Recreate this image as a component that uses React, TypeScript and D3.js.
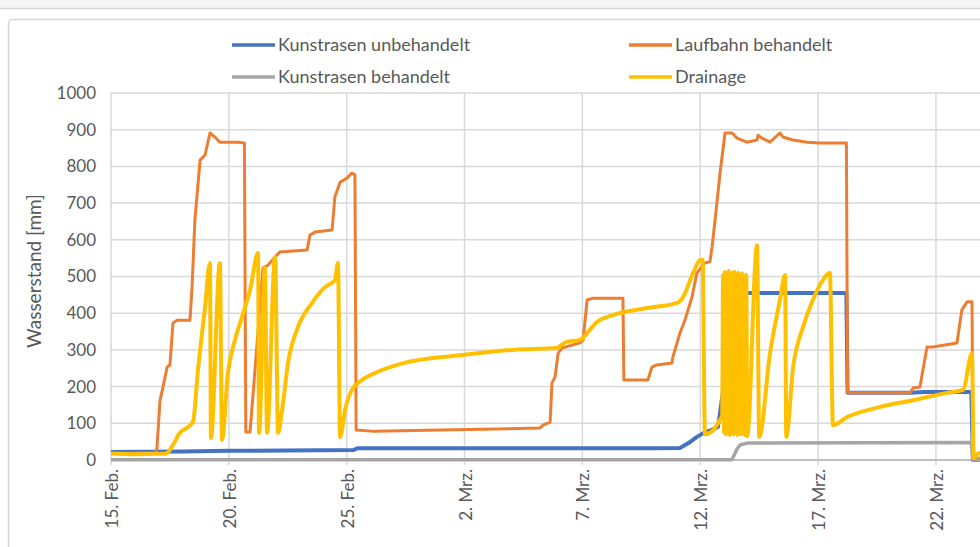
import React from 'react';
import * as d3 from 'd3';

type P = [number, number];

const tickDays = [0, 5, 10, 15, 20, 25, 30, 35];
const tickLabels = ['15. Feb.', '20. Feb.', '25. Feb.', '2. Mrz.', '7. Mrz.', '12. Mrz.', '17. Mrz.', '22. Mrz.'];
const yTicks = [0, 100, 200, 300, 400, 500, 600, 700, 800, 900, 1000];

const seriesNames = ['Kunstrasen unbehandelt', 'Laufbahn behandelt', 'Kunstrasen behandelt', 'Drainage'];

// Kunstrasen unbehandelt (day offset from 15 Feb, mm)
const kunstrasenUnbehandelt: P[] = [
  [0, 22], [3, 23], [5, 25], [10.3, 27], [10.45, 32], [18, 32], [23, 32], [24.14, 33], [24.5, 46],
  [24.86, 63], [25.2, 76], [25.5, 82], [25.75, 90], [25.84, 128], [26.2, 300], [26.6, 455],
  [31.2, 455], [31.25, 183], [33.9, 183], [34.5, 185], [36.5, 185], [36.57, 0], [37, 0],
];

// Laufbahn behandelt
const laufbahnBehandelt: P[] = [
  [0, 18], [1.9, 20], [1.95, 33], [2.08, 163], [2.21, 200], [2.38, 253], [2.5, 259], [2.63, 373],
  [2.8, 381], [3.35, 381], [3.44, 472], [3.56, 654], [3.78, 817], [3.99, 831], [4.2, 891], [4.41, 880],
  [4.62, 866], [5.39, 866], [5.66, 864], [5.72, 76], [5.9, 76], [6.45, 523], [6.66, 531], [6.96, 553],
  [7.17, 567], [8.32, 572], [8.44, 613], [8.66, 621], [9.38, 627], [9.5, 717], [9.72, 757], [10.01, 768],
  [10.22, 782], [10.35, 777], [10.4, 82], [11.2, 78], [14, 82], [18.2, 87], [18.33, 95], [18.63, 103],
  [18.71, 210], [18.84, 226], [18.97, 291], [19.13, 305], [19.9, 319], [20.03, 327], [20.2, 436],
  [20.45, 441], [21.72, 441], [21.76, 218], [22.78, 218], [22.95, 253], [23.16, 259], [23.8, 264],
  [23.84, 281], [24.14, 346], [24.35, 381], [24.65, 444], [24.86, 510], [25.2, 537], [25.41, 540],
  [25.5, 580], [25.63, 654], [25.84, 782], [26.05, 891], [26.35, 891], [26.56, 877], [26.98, 866],
  [27.41, 872], [27.45, 885], [27.62, 877], [27.96, 866], [28.38, 891], [28.51, 880], [28.94, 872],
  [29.53, 866], [30.08, 864], [31.2, 864], [31.25, 183], [33.9, 183], [34.03, 196], [34.32, 199],
  [34.62, 308], [34.87, 308], [35.89, 319], [36.1, 409], [36.32, 431], [36.53, 431], [36.57, 5], [37, 5],
];

// Kunstrasen behandelt
const kunstrasenBehandelt: P[] = [
  [0, 1], [26.35, 1], [26.56, 30], [26.69, 41], [26.98, 46], [36.5, 48], [36.57, 0], [37, 0],
];

// Drainage
const drainage: P[] = [
  [0, 18], [1, 16], [2, 17], [2.35, 18], [2.63, 41], [2.92, 74], [3.27, 90], [3.48, 104], [3.69, 245],
  [3.99, 417], [4.2, 537], [4.24, 60], [4.62, 537], [4.71, 55], [4.96, 237], [5.26, 327], [5.56, 390],
  [5.9, 463], [6.24, 564], [6.28, 74], [6.53, 523], [6.62, 74], [6.96, 553], [7.09, 74], [7.26, 136],
  [7.51, 264], [7.93, 362], [8.53, 428], [9.08, 471], [9.5, 490], [9.63, 537], [9.72, 63], [9.93, 136],
  [10.22, 191], [10.65, 218], [11.2, 237], [12.4, 264], [14.9, 286], [17.05, 300], [18.9, 305],
  [19.32, 322], [19.9, 327], [20.2, 346], [20.62, 376], [21.3, 395], [22.75, 414], [24.02, 428],
  [24.27, 444], [24.7, 510], [25.0, 545], [25.1, 545], [25.2, 70], [25.5, 78], [25.84, 110],
  [25.93, 120], [25.97, 505], [26.01, 75], [26.05, 512], [26.09, 70], [26.13, 508], [26.17, 72],
  [26.21, 515], [26.25, 68], [26.29, 505], [26.33, 74], [26.37, 510], [26.41, 70], [26.45, 512],
  [26.49, 75], [26.53, 500], [26.57, 68], [26.61, 510], [26.65, 72], [26.69, 505], [26.73, 70],
  [26.77, 508], [26.81, 74], [26.86, 500], [26.9, 68], [26.95, 505], [26.99, 65], [27.41, 585],
  [27.5, 63], [27.96, 291], [28.38, 436], [28.6, 504], [28.65, 63], [28.94, 253], [29.36, 362],
  [29.78, 436], [30.2, 490], [30.5, 510], [30.63, 95], [31.23, 117], [32.6, 144], [34.03, 163],
  [35.47, 183], [36.15, 191], [36.53, 291], [36.6, 5], [36.8, 18], [37, 20],
];

const colors = ['#4472C4', '#ED7D31', '#A5A5A5', '#FFC000'];
const widths = [4, 3, 3.5, 4];

export default function App() {
  const W = 980, H = 547;
  const left = 111, top = 93, bottom = 460;
  const pxPerDay = 23.57;
  const x = d3.scaleLinear().domain([0, 37]).range([left, left + pxPerDay * 37]);
  const y = d3.scaleLinear().domain([0, 1000]).range([bottom, top]);
  const lineLinear = d3.line<P>().x(d => x(d[0])).y(d => y(d[1]));
  const lineSmooth = d3.line<P>().x(d => x(d[0])).y(d => y(d[1])).curve(d3.curveMonotoneX);
  const allSeries = [kunstrasenUnbehandelt, laufbahnBehandelt, kunstrasenBehandelt, drainage];
  const font = "Lato, 'Open Sans', sans-serif";
  const txt = '#595959';
  const right = x(37);

  const legend = [
    { i: 0, lx: 232, ly: 45 },
    { i: 1, lx: 629, ly: 45 },
    { i: 2, lx: 232, ly: 77 },
    { i: 3, lx: 629, ly: 77 },
  ];

  return (
    <svg width={W} height={H} style={{ position: 'absolute', left: 0, top: 0, background: '#fff' }} fontFamily={font}>
      <rect x={0} y={0} width={W} height={8} fill="#f4f4f4" />
      <line x1={0} x2={W} y1={8.5} y2={8.5} stroke="#d6d6d6" strokeWidth={1.5} />
      <rect x={8.5} y={19.5} width={1100} height={700} rx={4} fill="#fff" stroke="#d6d6d6" strokeWidth={1.5} />
      <defs>
        <clipPath id="plot">
          <rect x={left} y={top - 10} width={right - left} height={bottom - top + 20} />
        </clipPath>
      </defs>
      {yTicks.map(t => (
        <line key={'g' + t} x1={left} x2={right} y1={y(t)} y2={y(t)} stroke="#d9d9d9" strokeWidth={1.5} />
      ))}
      {tickDays.map(t => (
        <line key={'v' + t} x1={x(t)} x2={x(t)} y1={top} y2={bottom + 5} stroke="#d9d9d9" strokeWidth={1.5} />
      ))}
      <line x1={left} x2={right} y1={bottom} y2={bottom} stroke="#bfbfbf" strokeWidth={2} />
      {yTicks.map(t => (
        <text key={'yt' + t} x={96} y={y(t)} dy="0.35em" textAnchor="end" fontSize={17} fill={txt}>{t}</text>
      ))}
      {tickDays.map((t, i) => (
        <text key={'xt' + t} transform={`translate(${x(t) + 1},${469}) rotate(-90)`} dy="0.35em" textAnchor="end" fontSize={17} fill={txt}>
          {tickLabels[i]}
        </text>
      ))}
      <text transform={`translate(${34},${271}) rotate(-90)`} dy="0.35em" textAnchor="middle" fontSize={19} fill={txt}>
        Wasserstand [mm]
      </text>
      <g clipPath="url(#plot)">
        {allSeries.map((s, i) => (
          <path key={'s' + i} d={(i === 3 ? lineSmooth(s) : lineLinear(s)) || ''} fill="none" stroke={colors[i]} strokeWidth={widths[i]} strokeLinejoin="round" strokeLinecap="round" />
        ))}
      </g>
      {legend.map(l => (
        <g key={'l' + l.i}>
          <line x1={l.lx} x2={l.lx + 43} y1={l.ly} y2={l.ly} stroke={colors[l.i]} strokeWidth={3.5} />
          <text x={l.lx + 46} y={l.ly} dy="0.35em" fontSize={18} fill={txt}>{seriesNames[l.i]}</text>
        </g>
      ))}
    </svg>
  );
}
